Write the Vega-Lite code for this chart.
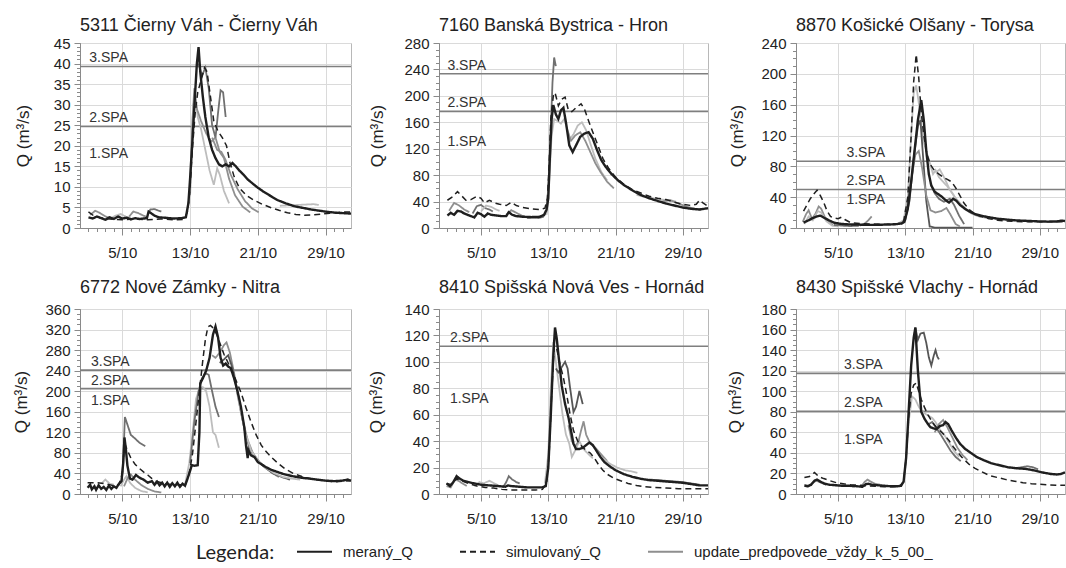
{
"$schema": "https://vega.github.io/schema/vega-lite/v6.json",
"padding": {"left": 12, "top": 16, "right": 0, "bottom": 0},
"background": "white",
"config": {
 "font": "Liberation Sans",
 "view": {"stroke": "#b8b8b8", "strokeWidth": 1},
 "axis": {"labelFontSize": 15, "labelColor": "#222", "labelOverlap": false, "titleFontSize": 17, "titleFontWeight": "normal", "titleColor": "#222", "domainColor": "#8a8a8a", "tickColor": "#8a8a8a", "gridColor": "#dadada", "gridWidth": 1},
 "axisX": {"labelPadding": 10, "tickSize": 7},
 "axisY": {"labelPadding": 4, "tickSize": 6},
 "title": {"fontSize": 18, "fontWeight": "normal", "anchor": "start", "frame": "group", "color": "#222", "baseline": "alphabetic"},
 "legend": {"direction": "horizontal", "symbolType": "stroke", "symbolSize": 1225, "symbolStrokeWidth": 2, "labelFontSize": 15, "labelColor": "#222", "labelOffset": 10, "labelLimit": 0, "columnPadding": 42, "titleFont": "Lato", "titleFontSize": 20, "titleFontWeight": "normal", "titleColor": "#222", "titleOrient": "left", "titlePadding": 21, "titleAnchor": "middle", "titleBaseline": "line-top", "titleLineHeight": 14, "titleLimit": 0}
},
"datasets": {
"spa": [
{"p":1,"k":"3.SPA","v":39.3},{"p":1,"k":"2.SPA","v":24.7},{"p":1,"k":"1.SPA","v":16},
{"p":2,"k":"3.SPA","v":233.5},{"p":2,"k":"2.SPA","v":176.5},{"p":2,"k":"1.SPA","v":118},
{"p":3,"k":"3.SPA","v":86.6},{"p":3,"k":"2.SPA","v":50},{"p":3,"k":"1.SPA","v":25.7},
{"p":4,"k":"3.SPA","v":241},{"p":4,"k":"2.SPA","v":205},{"p":4,"k":"1.SPA","v":166},
{"p":5,"k":"2.SPA","v":111.8},{"p":5,"k":"1.SPA","v":66},
{"p":6,"k":"3.SPA","v":117.4},{"p":6,"k":"2.SPA","v":80.4},{"p":6,"k":"1.SPA","v":44.3}
],
"q": [
{"p":1,"s":"m","x":1,"y":2.6},{"p":1,"s":"m","x":1.5,"y":2.3},{"p":1,"s":"m","x":2,"y":2.8},{"p":1,"s":"m","x":2.5,"y":2.4},{"p":1,"s":"m","x":3,"y":2},{"p":1,"s":"m","x":3.5,"y":2.6},{"p":1,"s":"m","x":4,"y":2.2},{"p":1,"s":"m","x":4.5,"y":2.8},{"p":1,"s":"m","x":5,"y":2.3},{"p":1,"s":"m","x":5.5,"y":2.5},{"p":1,"s":"m","x":6,"y":2.1},{"p":1,"s":"m","x":6.5,"y":2.4},{"p":1,"s":"m","x":7,"y":2.2},{"p":1,"s":"m","x":7.5,"y":2.3},{"p":1,"s":"m","x":7.9,"y":2.4},{"p":1,"s":"m","x":8.1,"y":4},{"p":1,"s":"m","x":8.4,"y":3.6},{"p":1,"s":"m","x":8.8,"y":3},{"p":1,"s":"m","x":9.3,"y":2.6},{"p":1,"s":"m","x":10,"y":2.5},{"p":1,"s":"m","x":11,"y":2.3},{"p":1,"s":"m","x":12,"y":2.4},{"p":1,"s":"m","x":12.5,"y":2.6},{"p":1,"s":"m","x":12.8,"y":6},{"p":1,"s":"m","x":13,"y":12},{"p":1,"s":"m","x":13.3,"y":22},{"p":1,"s":"m","x":13.6,"y":33},{"p":1,"s":"m","x":13.8,"y":40},{"p":1,"s":"m","x":14,"y":44},{"p":1,"s":"m","x":14.2,"y":38},{"p":1,"s":"m","x":14.5,"y":32},{"p":1,"s":"m","x":14.8,"y":27},{"p":1,"s":"m","x":15.2,"y":22},{"p":1,"s":"m","x":15.6,"y":19},{"p":1,"s":"m","x":16,"y":17},{"p":1,"s":"m","x":16.4,"y":15.5},{"p":1,"s":"m","x":16.8,"y":15},{"p":1,"s":"m","x":17.2,"y":15.5},{"p":1,"s":"m","x":17.6,"y":15},{"p":1,"s":"m","x":18,"y":15.8},{"p":1,"s":"m","x":18.4,"y":15},{"p":1,"s":"m","x":18.8,"y":14},{"p":1,"s":"m","x":19.3,"y":13},{"p":1,"s":"m","x":19.8,"y":11.8},{"p":1,"s":"m","x":20.4,"y":10.8},{"p":1,"s":"m","x":21,"y":9.8},{"p":1,"s":"m","x":21.7,"y":8.8},{"p":1,"s":"m","x":22.5,"y":7.8},{"p":1,"s":"m","x":23.3,"y":6.8},{"p":1,"s":"m","x":24.3,"y":6},{"p":1,"s":"m","x":25.3,"y":5.3},{"p":1,"s":"m","x":26.3,"y":4.9},{"p":1,"s":"m","x":27.3,"y":4.5},{"p":1,"s":"m","x":28.3,"y":4.2},{"p":1,"s":"m","x":29.3,"y":3.9},{"p":1,"s":"m","x":30.3,"y":3.7},{"p":1,"s":"m","x":31.2,"y":3.6},{"p":1,"s":"m","x":32,"y":3.5},
{"p":1,"s":"s","x":1,"y":3.9},{"p":1,"s":"s","x":1.6,"y":3},{"p":1,"s":"s","x":2.4,"y":2.5},{"p":1,"s":"s","x":3.5,"y":2.2},{"p":1,"s":"s","x":5,"y":2},{"p":1,"s":"s","x":6.5,"y":2.2},{"p":1,"s":"s","x":8,"y":2},{"p":1,"s":"s","x":9.5,"y":2.2},{"p":1,"s":"s","x":11,"y":2},{"p":1,"s":"s","x":12.3,"y":2.1},{"p":1,"s":"s","x":12.7,"y":4},{"p":1,"s":"s","x":13,"y":10},{"p":1,"s":"s","x":13.3,"y":20},{"p":1,"s":"s","x":13.6,"y":28},{"p":1,"s":"s","x":13.9,"y":33},{"p":1,"s":"s","x":14.3,"y":36},{"p":1,"s":"s","x":14.7,"y":39},{"p":1,"s":"s","x":15,"y":38},{"p":1,"s":"s","x":15.4,"y":32},{"p":1,"s":"s","x":15.8,"y":26},{"p":1,"s":"s","x":16.3,"y":23.5},{"p":1,"s":"s","x":16.8,"y":22},{"p":1,"s":"s","x":17.3,"y":20},{"p":1,"s":"s","x":17.7,"y":16},{"p":1,"s":"s","x":18.2,"y":12.5},{"p":1,"s":"s","x":18.8,"y":9.8},{"p":1,"s":"s","x":19.6,"y":8},{"p":1,"s":"s","x":20.5,"y":6.8},{"p":1,"s":"s","x":21.5,"y":5.8},{"p":1,"s":"s","x":22.5,"y":5},{"p":1,"s":"s","x":23.5,"y":4.3},{"p":1,"s":"s","x":24.5,"y":3.7},{"p":1,"s":"s","x":25.5,"y":3.3},{"p":1,"s":"s","x":26.5,"y":3.1},{"p":1,"s":"s","x":27.5,"y":3.2},{"p":1,"s":"s","x":28.5,"y":3.4},{"p":1,"s":"s","x":29.5,"y":3.6},{"p":1,"s":"s","x":30.5,"y":3.8},{"p":1,"s":"s","x":31.5,"y":3.9},{"p":1,"s":"s","x":32,"y":3.9},
{"p":1,"s":"u1","r":"a","x":1.2,"y":3.2},{"p":1,"s":"u1","r":"a","x":1.8,"y":4.2},{"p":1,"s":"u1","r":"a","x":2.4,"y":3.6},{"p":1,"s":"u1","r":"a","x":3,"y":2.8},{"p":1,"s":"u1","r":"a","x":3.6,"y":2.4},
{"p":1,"s":"u2","r":"b","x":3.6,"y":2.3},{"p":1,"s":"u2","r":"b","x":4.2,"y":3},{"p":1,"s":"u2","r":"b","x":4.8,"y":3.4},{"p":1,"s":"u2","r":"b","x":5.4,"y":2.8},{"p":1,"s":"u2","r":"b","x":6,"y":2.5},
{"p":1,"s":"u1","r":"c","x":5.8,"y":2.8},{"p":1,"s":"u1","r":"c","x":6.3,"y":4},{"p":1,"s":"u1","r":"c","x":6.9,"y":3.6},{"p":1,"s":"u1","r":"c","x":7.5,"y":3},{"p":1,"s":"u1","r":"c","x":8,"y":2.6},
{"p":1,"s":"u3","r":"d","x":8,"y":3.2},{"p":1,"s":"u3","r":"d","x":8.3,"y":4.5},{"p":1,"s":"u3","r":"d","x":8.8,"y":4.6},{"p":1,"s":"u3","r":"d","x":9.3,"y":4.2},{"p":1,"s":"u3","r":"d","x":9.6,"y":4},
{"p":1,"s":"u2","r":"e","x":12.9,"y":6},{"p":1,"s":"u2","r":"e","x":13.2,"y":22},{"p":1,"s":"u2","r":"e","x":13.4,"y":30},{"p":1,"s":"u2","r":"e","x":13.6,"y":32},{"p":1,"s":"u2","r":"e","x":13.9,"y":27},{"p":1,"s":"u2","r":"e","x":14.3,"y":24},{"p":1,"s":"u2","r":"e","x":14.8,"y":19},{"p":1,"s":"u2","r":"e","x":15.3,"y":14},{"p":1,"s":"u2","r":"e","x":15.8,"y":10.5},{"p":1,"s":"u2","r":"e","x":16.2,"y":14.5},{"p":1,"s":"u2","r":"e","x":16.5,"y":13},{"p":1,"s":"u2","r":"e","x":17,"y":9},{"p":1,"s":"u2","r":"e","x":17.6,"y":6},
{"p":1,"s":"u1","r":"f","x":13,"y":8},{"p":1,"s":"u1","r":"f","x":13.3,"y":27},{"p":1,"s":"u1","r":"f","x":13.5,"y":34},{"p":1,"s":"u1","r":"f","x":13.8,"y":29},{"p":1,"s":"u1","r":"f","x":14.3,"y":26},{"p":1,"s":"u1","r":"f","x":14.9,"y":23},{"p":1,"s":"u1","r":"f","x":15.5,"y":21},{"p":1,"s":"u1","r":"f","x":16,"y":22},{"p":1,"s":"u1","r":"f","x":16.5,"y":18.5},{"p":1,"s":"u1","r":"f","x":17,"y":17},{"p":1,"s":"u1","r":"f","x":17.6,"y":12},{"p":1,"s":"u1","r":"f","x":18.3,"y":8},{"p":1,"s":"u1","r":"f","x":19.2,"y":5.2},{"p":1,"s":"u1","r":"f","x":20.1,"y":3.8},
{"p":1,"s":"u3","r":"g","x":14,"y":40},{"p":1,"s":"u3","r":"g","x":14.4,"y":37},{"p":1,"s":"u3","r":"g","x":14.8,"y":39},{"p":1,"s":"u3","r":"g","x":15.2,"y":34},{"p":1,"s":"u3","r":"g","x":15.6,"y":25},{"p":1,"s":"u3","r":"g","x":16,"y":22},{"p":1,"s":"u3","r":"g","x":16.3,"y":28},{"p":1,"s":"u3","r":"g","x":16.6,"y":33.5},{"p":1,"s":"u3","r":"g","x":16.9,"y":33},{"p":1,"s":"u3","r":"g","x":17.2,"y":27},
{"p":1,"s":"u1","r":"h","x":15.6,"y":22},{"p":1,"s":"u1","r":"h","x":16.2,"y":19},{"p":1,"s":"u1","r":"h","x":16.7,"y":18.5},{"p":1,"s":"u1","r":"h","x":17.2,"y":16.5},{"p":1,"s":"u1","r":"h","x":17.8,"y":13},{"p":1,"s":"u1","r":"h","x":18.6,"y":9.5},{"p":1,"s":"u1","r":"h","x":19.5,"y":6.5},{"p":1,"s":"u1","r":"h","x":20.3,"y":4.8},{"p":1,"s":"u1","r":"h","x":21.1,"y":3.8},
{"p":1,"s":"u2","r":"i","x":23.6,"y":5.4},{"p":1,"s":"u2","r":"i","x":24.6,"y":5.5},{"p":1,"s":"u2","r":"i","x":25.6,"y":5.6},{"p":1,"s":"u2","r":"i","x":26.6,"y":5.7},{"p":1,"s":"u2","r":"i","x":27.6,"y":5.8},{"p":1,"s":"u2","r":"i","x":28.2,"y":5.6},

{"p":2,"s":"m","x":1,"y":19},{"p":2,"s":"m","x":1.4,"y":23},{"p":2,"s":"m","x":1.8,"y":20},{"p":2,"s":"m","x":2.2,"y":26},{"p":2,"s":"m","x":2.6,"y":25},{"p":2,"s":"m","x":3,"y":22},{"p":2,"s":"m","x":3.4,"y":20},{"p":2,"s":"m","x":3.8,"y":18},{"p":2,"s":"m","x":4.2,"y":16},{"p":2,"s":"m","x":4.6,"y":23},{"p":2,"s":"m","x":5,"y":21},{"p":2,"s":"m","x":5.4,"y":17},{"p":2,"s":"m","x":5.8,"y":22},{"p":2,"s":"m","x":6.2,"y":20},{"p":2,"s":"m","x":6.8,"y":19},{"p":2,"s":"m","x":7.4,"y":18},{"p":2,"s":"m","x":8,"y":18},{"p":2,"s":"m","x":8.3,"y":24},{"p":2,"s":"m","x":8.7,"y":20},{"p":2,"s":"m","x":9.2,"y":18},{"p":2,"s":"m","x":10,"y":17},{"p":2,"s":"m","x":11,"y":16.5},{"p":2,"s":"m","x":12,"y":17},{"p":2,"s":"m","x":12.5,"y":20},{"p":2,"s":"m","x":12.8,"y":28},{"p":2,"s":"m","x":13,"y":45},{"p":2,"s":"m","x":13.2,"y":110},{"p":2,"s":"m","x":13.4,"y":165},{"p":2,"s":"m","x":13.6,"y":186},{"p":2,"s":"m","x":13.9,"y":172},{"p":2,"s":"m","x":14.2,"y":165},{"p":2,"s":"m","x":14.5,"y":178},{"p":2,"s":"m","x":14.8,"y":182},{"p":2,"s":"m","x":15.1,"y":160},{"p":2,"s":"m","x":15.5,"y":125},{"p":2,"s":"m","x":15.9,"y":115},{"p":2,"s":"m","x":16.3,"y":125},{"p":2,"s":"m","x":16.8,"y":138},{"p":2,"s":"m","x":17.3,"y":143},{"p":2,"s":"m","x":17.8,"y":145},{"p":2,"s":"m","x":18.3,"y":135},{"p":2,"s":"m","x":18.8,"y":118},{"p":2,"s":"m","x":19.3,"y":103},{"p":2,"s":"m","x":19.8,"y":93},{"p":2,"s":"m","x":20.5,"y":82},{"p":2,"s":"m","x":21.3,"y":72},{"p":2,"s":"m","x":22,"y":65},{"p":2,"s":"m","x":23,"y":57},{"p":2,"s":"m","x":24,"y":50},{"p":2,"s":"m","x":25,"y":45},{"p":2,"s":"m","x":26,"y":41},{"p":2,"s":"m","x":27,"y":37},{"p":2,"s":"m","x":28,"y":34},{"p":2,"s":"m","x":29,"y":31},{"p":2,"s":"m","x":30,"y":29},{"p":2,"s":"m","x":31,"y":28},{"p":2,"s":"m","x":31.5,"y":29},{"p":2,"s":"m","x":32,"y":30},
{"p":2,"s":"s","x":1,"y":42},{"p":2,"s":"s","x":1.6,"y":47},{"p":2,"s":"s","x":2.2,"y":55},{"p":2,"s":"s","x":2.6,"y":50},{"p":2,"s":"s","x":3.2,"y":42},{"p":2,"s":"s","x":3.8,"y":43},{"p":2,"s":"s","x":4.5,"y":48},{"p":2,"s":"s","x":5,"y":45},{"p":2,"s":"s","x":5.4,"y":38},{"p":2,"s":"s","x":6,"y":42},{"p":2,"s":"s","x":6.6,"y":38},{"p":2,"s":"s","x":7.2,"y":36},{"p":2,"s":"s","x":8,"y":34},{"p":2,"s":"s","x":8.6,"y":39},{"p":2,"s":"s","x":9.2,"y":34},{"p":2,"s":"s","x":10,"y":31},{"p":2,"s":"s","x":11,"y":29},{"p":2,"s":"s","x":12,"y":28},{"p":2,"s":"s","x":12.6,"y":30},{"p":2,"s":"s","x":12.9,"y":45},{"p":2,"s":"s","x":13.1,"y":95},{"p":2,"s":"s","x":13.3,"y":165},{"p":2,"s":"s","x":13.6,"y":200},{"p":2,"s":"s","x":13.8,"y":205},{"p":2,"s":"s","x":14.2,"y":185},{"p":2,"s":"s","x":14.6,"y":195},{"p":2,"s":"s","x":15,"y":198},{"p":2,"s":"s","x":15.4,"y":178},{"p":2,"s":"s","x":15.8,"y":176},{"p":2,"s":"s","x":16.3,"y":182},{"p":2,"s":"s","x":16.9,"y":188},{"p":2,"s":"s","x":17.3,"y":180},{"p":2,"s":"s","x":17.8,"y":162},{"p":2,"s":"s","x":18.3,"y":145},{"p":2,"s":"s","x":18.9,"y":125},{"p":2,"s":"s","x":19.5,"y":105},{"p":2,"s":"s","x":20.2,"y":90},{"p":2,"s":"s","x":21,"y":77},{"p":2,"s":"s","x":22,"y":66},{"p":2,"s":"s","x":23,"y":58},{"p":2,"s":"s","x":24,"y":53},{"p":2,"s":"s","x":25,"y":48},{"p":2,"s":"s","x":26,"y":45},{"p":2,"s":"s","x":27,"y":43},{"p":2,"s":"s","x":28,"y":39},{"p":2,"s":"s","x":29,"y":36},{"p":2,"s":"s","x":30,"y":34},{"p":2,"s":"s","x":30.6,"y":36},{"p":2,"s":"s","x":31,"y":42},{"p":2,"s":"s","x":31.4,"y":38},{"p":2,"s":"s","x":32,"y":33},
{"p":2,"s":"u1","r":"a","x":1.2,"y":26},{"p":2,"s":"u1","r":"a","x":1.8,"y":38},{"p":2,"s":"u1","r":"a","x":2.4,"y":34},{"p":2,"s":"u1","r":"a","x":3,"y":28},{"p":2,"s":"u1","r":"a","x":3.6,"y":24},
{"p":2,"s":"u3","r":"b","x":4,"y":22},{"p":2,"s":"u3","r":"b","x":4.5,"y":33},{"p":2,"s":"u3","r":"b","x":5,"y":35},{"p":2,"s":"u3","r":"b","x":5.5,"y":30},{"p":2,"s":"u3","r":"b","x":6,"y":28},{"p":2,"s":"u3","r":"b","x":6.4,"y":25},
{"p":2,"s":"u2","r":"c","x":5,"y":25},{"p":2,"s":"u2","r":"c","x":5.6,"y":34},{"p":2,"s":"u2","r":"c","x":6.2,"y":32},{"p":2,"s":"u2","r":"c","x":6.8,"y":28},{"p":2,"s":"u2","r":"c","x":7.2,"y":26},
{"p":2,"s":"u1","r":"d","x":8,"y":20},{"p":2,"s":"u1","r":"d","x":8.6,"y":27},{"p":2,"s":"u1","r":"d","x":9.2,"y":23},{"p":2,"s":"u1","r":"d","x":9.8,"y":19},{"p":2,"s":"u1","r":"d","x":10.4,"y":16},
{"p":2,"s":"u3","r":"e","x":10.5,"y":15},{"p":2,"s":"u3","r":"e","x":11.2,"y":16},{"p":2,"s":"u3","r":"e","x":11.8,"y":15},{"p":2,"s":"u3","r":"e","x":12.4,"y":17},{"p":2,"s":"u3","r":"e","x":12.8,"y":25},{"p":2,"s":"u3","r":"e","x":13.1,"y":80},{"p":2,"s":"u3","r":"e","x":13.3,"y":150},{"p":2,"s":"u3","r":"e","x":13.5,"y":220},{"p":2,"s":"u3","r":"e","x":13.7,"y":258},{"p":2,"s":"u3","r":"e","x":13.9,"y":245},
{"p":2,"s":"u2","r":"f","x":12.8,"y":20},{"p":2,"s":"u2","r":"f","x":13.1,"y":70},{"p":2,"s":"u2","r":"f","x":13.4,"y":140},{"p":2,"s":"u2","r":"f","x":13.7,"y":165},{"p":2,"s":"u2","r":"f","x":14.1,"y":162},{"p":2,"s":"u2","r":"f","x":14.5,"y":158},{"p":2,"s":"u2","r":"f","x":14.9,"y":165},{"p":2,"s":"u2","r":"f","x":15.2,"y":152},{"p":2,"s":"u2","r":"f","x":15.6,"y":135},{"p":2,"s":"u2","r":"f","x":16,"y":142},{"p":2,"s":"u2","r":"f","x":16.5,"y":155},{"p":2,"s":"u2","r":"f","x":17,"y":160},{"p":2,"s":"u2","r":"f","x":17.5,"y":148},{"p":2,"s":"u2","r":"f","x":18,"y":128},{"p":2,"s":"u2","r":"f","x":18.6,"y":105},{"p":2,"s":"u2","r":"f","x":19.3,"y":85},{"p":2,"s":"u2","r":"f","x":20,"y":72},
{"p":2,"s":"u1","r":"g","x":15.2,"y":150},{"p":2,"s":"u1","r":"g","x":15.7,"y":132},{"p":2,"s":"u1","r":"g","x":16.2,"y":140},{"p":2,"s":"u1","r":"g","x":16.8,"y":145},{"p":2,"s":"u1","r":"g","x":17.4,"y":132},{"p":2,"s":"u1","r":"g","x":18,"y":115},{"p":2,"s":"u1","r":"g","x":18.6,"y":98},{"p":2,"s":"u1","r":"g","x":19.2,"y":85},{"p":2,"s":"u1","r":"g","x":20,"y":70},{"p":2,"s":"u1","r":"g","x":20.8,"y":60},
{"p":2,"s":"u2","r":"h","x":23.5,"y":50},{"p":2,"s":"u2","r":"h","x":24.5,"y":47},{"p":2,"s":"u2","r":"h","x":25.5,"y":45},{"p":2,"s":"u2","r":"h","x":26.5,"y":43},{"p":2,"s":"u2","r":"h","x":27.5,"y":42},{"p":2,"s":"u2","r":"h","x":28.2,"y":40},
{"p":2,"s":"u1","r":"i","x":26.5,"y":40},{"p":2,"s":"u1","r":"i","x":27.5,"y":42},{"p":2,"s":"u1","r":"i","x":28.5,"y":37},{"p":2,"s":"u1","r":"i","x":29.5,"y":32},{"p":2,"s":"u1","r":"i","x":30.5,"y":29},{"p":2,"s":"u1","r":"i","x":31.2,"y":28},

{"p":3,"s":"m","x":0.9,"y":7},{"p":3,"s":"m","x":1.5,"y":10},{"p":3,"s":"m","x":2,"y":13},{"p":3,"s":"m","x":2.5,"y":15},{"p":3,"s":"m","x":2.9,"y":16},{"p":3,"s":"m","x":3.4,"y":13},{"p":3,"s":"m","x":3.9,"y":10},{"p":3,"s":"m","x":4.5,"y":7},{"p":3,"s":"m","x":5.2,"y":5.5},{"p":3,"s":"m","x":6,"y":4.8},{"p":3,"s":"m","x":7,"y":4.5},{"p":3,"s":"m","x":8,"y":4.2},{"p":3,"s":"m","x":9,"y":4},{"p":3,"s":"m","x":10,"y":4.2},{"p":3,"s":"m","x":11,"y":4.5},{"p":3,"s":"m","x":12,"y":5},{"p":3,"s":"m","x":12.6,"y":6},{"p":3,"s":"m","x":12.9,"y":8},{"p":3,"s":"m","x":13.3,"y":25},{"p":3,"s":"m","x":13.7,"y":60},{"p":3,"s":"m","x":14.1,"y":100},{"p":3,"s":"m","x":14.5,"y":140},{"p":3,"s":"m","x":14.9,"y":166},{"p":3,"s":"m","x":15.2,"y":140},{"p":3,"s":"m","x":15.5,"y":100},{"p":3,"s":"m","x":15.8,"y":70},{"p":3,"s":"m","x":16.1,"y":55},{"p":3,"s":"m","x":16.5,"y":47},{"p":3,"s":"m","x":16.9,"y":44},{"p":3,"s":"m","x":17.3,"y":41},{"p":3,"s":"m","x":17.7,"y":37},{"p":3,"s":"m","x":18.2,"y":33},{"p":3,"s":"m","x":18.7,"y":38},{"p":3,"s":"m","x":19.1,"y":35},{"p":3,"s":"m","x":19.5,"y":30},{"p":3,"s":"m","x":20.1,"y":25},{"p":3,"s":"m","x":20.7,"y":21},{"p":3,"s":"m","x":21.3,"y":18},{"p":3,"s":"m","x":22,"y":16},{"p":3,"s":"m","x":22.9,"y":14},{"p":3,"s":"m","x":24,"y":12},{"p":3,"s":"m","x":25,"y":11},{"p":3,"s":"m","x":26,"y":10},{"p":3,"s":"m","x":27,"y":9.5},{"p":3,"s":"m","x":28,"y":9},{"p":3,"s":"m","x":29,"y":8.5},{"p":3,"s":"m","x":30,"y":8.3},{"p":3,"s":"m","x":31,"y":8.5},{"p":3,"s":"m","x":31.6,"y":9.5},{"p":3,"s":"m","x":32,"y":9},
{"p":3,"s":"s","x":0.9,"y":22},{"p":3,"s":"s","x":1.3,"y":30},{"p":3,"s":"s","x":1.7,"y":38},{"p":3,"s":"s","x":2.1,"y":44},{"p":3,"s":"s","x":2.5,"y":49},{"p":3,"s":"s","x":2.9,"y":42},{"p":3,"s":"s","x":3.3,"y":33},{"p":3,"s":"s","x":3.7,"y":22},{"p":3,"s":"s","x":4.1,"y":15},{"p":3,"s":"s","x":4.5,"y":13},{"p":3,"s":"s","x":5,"y":12},{"p":3,"s":"s","x":5.4,"y":14},{"p":3,"s":"s","x":5.8,"y":11},{"p":3,"s":"s","x":6.5,"y":7},{"p":3,"s":"s","x":8,"y":5.5},{"p":3,"s":"s","x":10,"y":5},{"p":3,"s":"s","x":12,"y":5},{"p":3,"s":"s","x":12.8,"y":8},{"p":3,"s":"s","x":13.3,"y":40},{"p":3,"s":"s","x":13.7,"y":120},{"p":3,"s":"s","x":14,"y":190},{"p":3,"s":"s","x":14.3,"y":225},{"p":3,"s":"s","x":14.6,"y":195},{"p":3,"s":"s","x":14.9,"y":150},{"p":3,"s":"s","x":15.2,"y":120},{"p":3,"s":"s","x":15.6,"y":95},{"p":3,"s":"s","x":16,"y":82},{"p":3,"s":"s","x":16.5,"y":74},{"p":3,"s":"s","x":17,"y":70},{"p":3,"s":"s","x":17.5,"y":66},{"p":3,"s":"s","x":18,"y":63},{"p":3,"s":"s","x":18.5,"y":60},{"p":3,"s":"s","x":19,"y":52},{"p":3,"s":"s","x":19.5,"y":42},{"p":3,"s":"s","x":20,"y":32},{"p":3,"s":"s","x":20.6,"y":24},{"p":3,"s":"s","x":21.3,"y":18},{"p":3,"s":"s","x":22,"y":15},{"p":3,"s":"s","x":23,"y":12},{"p":3,"s":"s","x":24,"y":10},{"p":3,"s":"s","x":26,"y":8.5},{"p":3,"s":"s","x":28,"y":8},{"p":3,"s":"s","x":30,"y":8},{"p":3,"s":"s","x":32,"y":8},
{"p":3,"s":"u1","r":"a","x":0.8,"y":8},{"p":3,"s":"u1","r":"a","x":1.2,"y":18},{"p":3,"s":"u1","r":"a","x":1.5,"y":23},{"p":3,"s":"u1","r":"a","x":1.9,"y":12},{"p":3,"s":"u1","r":"a","x":2.3,"y":18},{"p":3,"s":"u1","r":"a","x":2.7,"y":28},{"p":3,"s":"u1","r":"a","x":3,"y":25},{"p":3,"s":"u1","r":"a","x":3.4,"y":15},{"p":3,"s":"u1","r":"a","x":3.8,"y":8},{"p":3,"s":"u1","r":"a","x":4.4,"y":4},
{"p":3,"s":"u2","r":"b","x":1,"y":5},{"p":3,"s":"u2","r":"b","x":1.5,"y":15},{"p":3,"s":"u2","r":"b","x":2,"y":10},{"p":3,"s":"u2","r":"b","x":2.6,"y":22},{"p":3,"s":"u2","r":"b","x":3,"y":20},{"p":3,"s":"u2","r":"b","x":3.6,"y":9},{"p":3,"s":"u2","r":"b","x":4.3,"y":3},{"p":3,"s":"u2","r":"b","x":5,"y":2},
{"p":3,"s":"u3","r":"c","x":4.5,"y":4},{"p":3,"s":"u3","r":"c","x":5.5,"y":3},{"p":3,"s":"u3","r":"c","x":6.5,"y":2.5},{"p":3,"s":"u3","r":"c","x":7.5,"y":3},
{"p":3,"s":"u1","r":"d","x":7.6,"y":3},{"p":3,"s":"u1","r":"d","x":8.2,"y":6},{"p":3,"s":"u1","r":"d","x":8.6,"y":10},{"p":3,"s":"u1","r":"d","x":9,"y":15},
{"p":3,"s":"u2","r":"e","x":11.5,"y":4},{"p":3,"s":"u2","r":"e","x":12.2,"y":6},{"p":3,"s":"u2","r":"e","x":12.8,"y":10},{"p":3,"s":"u2","r":"e","x":13.3,"y":40},{"p":3,"s":"u2","r":"e","x":13.7,"y":120},{"p":3,"s":"u2","r":"e","x":14,"y":175},{"p":3,"s":"u2","r":"e","x":14.3,"y":185},{"p":3,"s":"u2","r":"e","x":14.7,"y":155},{"p":3,"s":"u2","r":"e","x":15.1,"y":115},{"p":3,"s":"u2","r":"e","x":15.5,"y":100},{"p":3,"s":"u2","r":"e","x":15.9,"y":85},{"p":3,"s":"u2","r":"e","x":16.3,"y":70},{"p":3,"s":"u2","r":"e","x":16.6,"y":75},{"p":3,"s":"u2","r":"e","x":17,"y":66},{"p":3,"s":"u2","r":"e","x":17.5,"y":60},{"p":3,"s":"u2","r":"e","x":18,"y":54},{"p":3,"s":"u2","r":"e","x":18.6,"y":45},{"p":3,"s":"u2","r":"e","x":19.2,"y":35},{"p":3,"s":"u2","r":"e","x":20,"y":25},{"p":3,"s":"u2","r":"e","x":21,"y":18},{"p":3,"s":"u2","r":"e","x":22,"y":14},
{"p":3,"s":"u4","r":"f","x":12.5,"y":5},{"p":3,"s":"u4","r":"f","x":13,"y":12},{"p":3,"s":"u4","r":"f","x":13.5,"y":35},{"p":3,"s":"u4","r":"f","x":14,"y":90},{"p":3,"s":"u4","r":"f","x":14.5,"y":132},{"p":3,"s":"u4","r":"f","x":14.8,"y":140},{"p":3,"s":"u4","r":"f","x":15.1,"y":95},{"p":3,"s":"u4","r":"f","x":15.5,"y":35},{"p":3,"s":"u4","r":"f","x":15.9,"y":2},{"p":3,"s":"u4","r":"f","x":16.5,"y":0.5},{"p":3,"s":"u4","r":"f","x":18,"y":0.5},{"p":3,"s":"u4","r":"f","x":19.5,"y":0.5},{"p":3,"s":"u4","r":"f","x":21,"y":0.5},
{"p":3,"s":"u1","r":"g","x":13,"y":10},{"p":3,"s":"u1","r":"g","x":13.6,"y":55},{"p":3,"s":"u1","r":"g","x":14.2,"y":95},{"p":3,"s":"u1","r":"g","x":14.6,"y":100},{"p":3,"s":"u1","r":"g","x":15,"y":78},{"p":3,"s":"u1","r":"g","x":15.5,"y":42},{"p":3,"s":"u1","r":"g","x":16,"y":23},{"p":3,"s":"u1","r":"g","x":16.6,"y":20},{"p":3,"s":"u1","r":"g","x":17.3,"y":22},{"p":3,"s":"u1","r":"g","x":17.9,"y":26},{"p":3,"s":"u1","r":"g","x":18.4,"y":17},{"p":3,"s":"u1","r":"g","x":19,"y":5},{"p":3,"s":"u1","r":"g","x":19.5,"y":2},
{"p":3,"s":"u3","r":"h","x":16,"y":58},{"p":3,"s":"u3","r":"h","x":16.5,"y":45},{"p":3,"s":"u3","r":"h","x":17,"y":38},{"p":3,"s":"u3","r":"h","x":17.6,"y":34},{"p":3,"s":"u3","r":"h","x":18.3,"y":38},{"p":3,"s":"u3","r":"h","x":18.8,"y":30},{"p":3,"s":"u3","r":"h","x":19.4,"y":16},{"p":3,"s":"u3","r":"h","x":20,"y":5},
{"p":3,"s":"u2","r":"i","x":16.6,"y":72},{"p":3,"s":"u2","r":"i","x":17.1,"y":76},{"p":3,"s":"u2","r":"i","x":17.6,"y":66},{"p":3,"s":"u2","r":"i","x":18.2,"y":52},{"p":3,"s":"u2","r":"i","x":18.9,"y":40},{"p":3,"s":"u2","r":"i","x":19.7,"y":30},{"p":3,"s":"u2","r":"i","x":20.5,"y":22},{"p":3,"s":"u2","r":"i","x":21.4,"y":17},{"p":3,"s":"u2","r":"i","x":22.3,"y":14},{"p":3,"s":"u2","r":"i","x":23,"y":12},

{"p":4,"s":"m","x":0.9,"y":12},{"p":4,"s":"m","x":1.2,"y":18},{"p":4,"s":"m","x":1.4,"y":9},{"p":4,"s":"m","x":1.7,"y":15},{"p":4,"s":"m","x":1.9,"y":8},{"p":4,"s":"m","x":2.2,"y":17},{"p":4,"s":"m","x":2.5,"y":10},{"p":4,"s":"m","x":2.8,"y":14},{"p":4,"s":"m","x":3.1,"y":8},{"p":4,"s":"m","x":3.4,"y":16},{"p":4,"s":"m","x":3.7,"y":10},{"p":4,"s":"m","x":4,"y":15},{"p":4,"s":"m","x":4.3,"y":12},{"p":4,"s":"m","x":4.6,"y":20},{"p":4,"s":"m","x":4.9,"y":25},{"p":4,"s":"m","x":5.1,"y":60},{"p":4,"s":"m","x":5.25,"y":110},{"p":4,"s":"m","x":5.4,"y":90},{"p":4,"s":"m","x":5.6,"y":55},{"p":4,"s":"m","x":5.9,"y":30},{"p":4,"s":"m","x":6.2,"y":28},{"p":4,"s":"m","x":6.6,"y":37},{"p":4,"s":"m","x":7,"y":32},{"p":4,"s":"m","x":7.5,"y":28},{"p":4,"s":"m","x":8,"y":22},{"p":4,"s":"m","x":8.5,"y":25},{"p":4,"s":"m","x":8.8,"y":18},{"p":4,"s":"m","x":9.1,"y":24},{"p":4,"s":"m","x":9.4,"y":17},{"p":4,"s":"m","x":9.7,"y":22},{"p":4,"s":"m","x":10,"y":15},{"p":4,"s":"m","x":10.3,"y":22},{"p":4,"s":"m","x":10.6,"y":14},{"p":4,"s":"m","x":10.9,"y":21},{"p":4,"s":"m","x":11.2,"y":15},{"p":4,"s":"m","x":11.5,"y":22},{"p":4,"s":"m","x":11.8,"y":14},{"p":4,"s":"m","x":12.1,"y":20},{"p":4,"s":"m","x":12.4,"y":16},{"p":4,"s":"m","x":12.7,"y":30},{"p":4,"s":"m","x":13,"y":45},{"p":4,"s":"m","x":13.2,"y":56},{"p":4,"s":"m","x":13.5,"y":55},{"p":4,"s":"m","x":13.9,"y":56},{"p":4,"s":"m","x":14.1,"y":120},{"p":4,"s":"m","x":14.2,"y":215},{"p":4,"s":"m","x":14.5,"y":225},{"p":4,"s":"m","x":14.9,"y":240},{"p":4,"s":"m","x":15.3,"y":265},{"p":4,"s":"m","x":15.7,"y":310},{"p":4,"s":"m","x":16,"y":326},{"p":4,"s":"m","x":16.3,"y":305},{"p":4,"s":"m","x":16.6,"y":265},{"p":4,"s":"m","x":16.9,"y":250},{"p":4,"s":"m","x":17.2,"y":254},{"p":4,"s":"m","x":17.5,"y":248},{"p":4,"s":"m","x":17.8,"y":245},{"p":4,"s":"m","x":18.2,"y":225},{"p":4,"s":"m","x":18.6,"y":200},{"p":4,"s":"m","x":19,"y":170},{"p":4,"s":"m","x":19.4,"y":130},{"p":4,"s":"m","x":19.6,"y":95},{"p":4,"s":"m","x":19.8,"y":70},{"p":4,"s":"m","x":19.9,"y":85},{"p":4,"s":"m","x":20.2,"y":75},{"p":4,"s":"m","x":20.6,"y":72},{"p":4,"s":"m","x":21,"y":62},{"p":4,"s":"m","x":21.5,"y":57},{"p":4,"s":"m","x":22,"y":52},{"p":4,"s":"m","x":22.6,"y":47},{"p":4,"s":"m","x":23.3,"y":43},{"p":4,"s":"m","x":24,"y":39},{"p":4,"s":"m","x":25,"y":35},{"p":4,"s":"m","x":26,"y":32},{"p":4,"s":"m","x":27,"y":30},{"p":4,"s":"m","x":28,"y":28},{"p":4,"s":"m","x":29,"y":26},{"p":4,"s":"m","x":30,"y":25},{"p":4,"s":"m","x":31,"y":26},{"p":4,"s":"m","x":31.6,"y":28},{"p":4,"s":"m","x":32,"y":26},
{"p":4,"s":"s","x":0.9,"y":22},{"p":4,"s":"s","x":2,"y":22},{"p":4,"s":"s","x":3,"y":20},{"p":4,"s":"s","x":4,"y":16},{"p":4,"s":"s","x":4.6,"y":18},{"p":4,"s":"s","x":5,"y":40},{"p":4,"s":"s","x":5.2,"y":85},{"p":4,"s":"s","x":5.35,"y":95},{"p":4,"s":"s","x":5.6,"y":85},{"p":4,"s":"s","x":6,"y":70},{"p":4,"s":"s","x":6.5,"y":58},{"p":4,"s":"s","x":7,"y":50},{"p":4,"s":"s","x":7.5,"y":43},{"p":4,"s":"s","x":8,"y":37},{"p":4,"s":"s","x":8.5,"y":30},{"p":4,"s":"s","x":9,"y":25},{"p":4,"s":"s","x":10,"y":20},{"p":4,"s":"s","x":11,"y":18},{"p":4,"s":"s","x":12,"y":18},{"p":4,"s":"s","x":12.5,"y":20},{"p":4,"s":"s","x":12.9,"y":40},{"p":4,"s":"s","x":13.3,"y":80},{"p":4,"s":"s","x":13.7,"y":140},{"p":4,"s":"s","x":14.1,"y":200},{"p":4,"s":"s","x":14.5,"y":260},{"p":4,"s":"s","x":14.8,"y":300},{"p":4,"s":"s","x":15.1,"y":325},{"p":4,"s":"s","x":15.4,"y":328},{"p":4,"s":"s","x":15.8,"y":322},{"p":4,"s":"s","x":16.2,"y":308},{"p":4,"s":"s","x":16.6,"y":290},{"p":4,"s":"s","x":17,"y":272},{"p":4,"s":"s","x":17.5,"y":255},{"p":4,"s":"s","x":18,"y":238},{"p":4,"s":"s","x":18.5,"y":218},{"p":4,"s":"s","x":19,"y":198},{"p":4,"s":"s","x":19.6,"y":168},{"p":4,"s":"s","x":20.2,"y":140},{"p":4,"s":"s","x":20.8,"y":115},{"p":4,"s":"s","x":21.4,"y":95},{"p":4,"s":"s","x":22,"y":82},{"p":4,"s":"s","x":22.7,"y":70},{"p":4,"s":"s","x":23.5,"y":58},{"p":4,"s":"s","x":24.3,"y":48},{"p":4,"s":"s","x":25.2,"y":40},{"p":4,"s":"s","x":26.2,"y":34},{"p":4,"s":"s","x":27.2,"y":30},{"p":4,"s":"s","x":28.2,"y":27},{"p":4,"s":"s","x":29.2,"y":25},{"p":4,"s":"s","x":30.2,"y":24},{"p":4,"s":"s","x":31.2,"y":25},{"p":4,"s":"s","x":32,"y":26},
{"p":4,"s":"u3","r":"a","x":4.9,"y":20},{"p":4,"s":"u3","r":"a","x":5.1,"y":60},{"p":4,"s":"u3","r":"a","x":5.3,"y":150},{"p":4,"s":"u3","r":"a","x":5.6,"y":135},{"p":4,"s":"u3","r":"a","x":6,"y":115},{"p":4,"s":"u3","r":"a","x":6.5,"y":108},{"p":4,"s":"u3","r":"a","x":7,"y":100},{"p":4,"s":"u3","r":"a","x":7.7,"y":93},
{"p":4,"s":"u2","r":"b","x":4.8,"y":15},{"p":4,"s":"u2","r":"b","x":5.2,"y":28},{"p":4,"s":"u2","r":"b","x":5.5,"y":35},{"p":4,"s":"u2","r":"b","x":5.9,"y":22},{"p":4,"s":"u2","r":"b","x":6.5,"y":12},{"p":4,"s":"u2","r":"b","x":7.2,"y":6},{"p":4,"s":"u2","r":"b","x":8,"y":3},
{"p":4,"s":"u1","r":"c","x":5.2,"y":15},{"p":4,"s":"u1","r":"c","x":5.6,"y":30},{"p":4,"s":"u1","r":"c","x":6,"y":38},{"p":4,"s":"u1","r":"c","x":6.5,"y":28},{"p":4,"s":"u1","r":"c","x":7.2,"y":18},{"p":4,"s":"u1","r":"c","x":8,"y":10},{"p":4,"s":"u1","r":"c","x":8.8,"y":5},{"p":4,"s":"u1","r":"c","x":9.6,"y":3},
{"p":4,"s":"u2","r":"d","x":2.5,"y":20},{"p":4,"s":"u2","r":"d","x":3,"y":28},{"p":4,"s":"u2","r":"d","x":3.5,"y":20},{"p":4,"s":"u2","r":"d","x":4,"y":18},
{"p":4,"s":"u2","r":"e","x":12.4,"y":18},{"p":4,"s":"u2","r":"e","x":12.9,"y":60},{"p":4,"s":"u2","r":"e","x":13.3,"y":120},{"p":4,"s":"u2","r":"e","x":13.7,"y":185},{"p":4,"s":"u2","r":"e","x":14.1,"y":205},{"p":4,"s":"u2","r":"e","x":14.5,"y":208},{"p":4,"s":"u2","r":"e","x":14.9,"y":200},{"p":4,"s":"u2","r":"e","x":15.3,"y":170},{"p":4,"s":"u2","r":"e","x":15.7,"y":120},{"p":4,"s":"u2","r":"e","x":16,"y":115},{"p":4,"s":"u2","r":"e","x":16.4,"y":90},
{"p":4,"s":"u3","r":"f","x":13,"y":60},{"p":4,"s":"u3","r":"f","x":13.5,"y":140},{"p":4,"s":"u3","r":"f","x":14,"y":200},{"p":4,"s":"u3","r":"f","x":14.4,"y":225},{"p":4,"s":"u3","r":"f","x":14.8,"y":235},{"p":4,"s":"u3","r":"f","x":15.2,"y":232},{"p":4,"s":"u3","r":"f","x":15.6,"y":200},{"p":4,"s":"u3","r":"f","x":16,"y":170},{"p":4,"s":"u3","r":"f","x":16.4,"y":150},
{"p":4,"s":"u1","r":"g","x":15.6,"y":270},{"p":4,"s":"u1","r":"g","x":16,"y":265},{"p":4,"s":"u1","r":"g","x":16.5,"y":275},{"p":4,"s":"u1","r":"g","x":17,"y":290},{"p":4,"s":"u1","r":"g","x":17.3,"y":295},{"p":4,"s":"u1","r":"g","x":17.7,"y":275},{"p":4,"s":"u1","r":"g","x":18.2,"y":235},{"p":4,"s":"u1","r":"g","x":18.7,"y":190},{"p":4,"s":"u1","r":"g","x":19.2,"y":145},{"p":4,"s":"u1","r":"g","x":19.8,"y":105},{"p":4,"s":"u1","r":"g","x":20.4,"y":80},{"p":4,"s":"u1","r":"g","x":21.2,"y":62},{"p":4,"s":"u1","r":"g","x":22,"y":50},{"p":4,"s":"u1","r":"g","x":22.8,"y":40},{"p":4,"s":"u1","r":"g","x":23.5,"y":33},
{"p":4,"s":"u4","r":"h","x":16.5,"y":255},{"p":4,"s":"u4","r":"h","x":17,"y":262},{"p":4,"s":"u4","r":"h","x":17.5,"y":270},{"p":4,"s":"u4","r":"h","x":18,"y":245},{"p":4,"s":"u4","r":"h","x":18.5,"y":205},{"p":4,"s":"u4","r":"h","x":19,"y":160},{"p":4,"s":"u4","r":"h","x":19.5,"y":120},{"p":4,"s":"u4","r":"h","x":20,"y":90},{"p":4,"s":"u4","r":"h","x":20.8,"y":68},{"p":4,"s":"u4","r":"h","x":21.8,"y":52},{"p":4,"s":"u4","r":"h","x":22.8,"y":40},{"p":4,"s":"u4","r":"h","x":24,"y":32},{"p":4,"s":"u4","r":"h","x":24.8,"y":28},
{"p":4,"s":"u2","r":"i","x":18.5,"y":200},{"p":4,"s":"u2","r":"i","x":19,"y":160},{"p":4,"s":"u2","r":"i","x":19.5,"y":120},{"p":4,"s":"u2","r":"i","x":20.2,"y":85},{"p":4,"s":"u2","r":"i","x":21,"y":65},{"p":4,"s":"u2","r":"i","x":22,"y":50},{"p":4,"s":"u2","r":"i","x":23,"y":40},{"p":4,"s":"u2","r":"i","x":24,"y":33},{"p":4,"s":"u2","r":"i","x":25,"y":30},{"p":4,"s":"u2","r":"i","x":26,"y":28},

{"p":5,"s":"m","x":0.9,"y":8},{"p":5,"s":"m","x":1.3,"y":6},{"p":5,"s":"m","x":1.7,"y":9},{"p":5,"s":"m","x":2.1,"y":13.5},{"p":5,"s":"m","x":2.5,"y":11.5},{"p":5,"s":"m","x":2.9,"y":10},{"p":5,"s":"m","x":3.5,"y":9},{"p":5,"s":"m","x":4.2,"y":8},{"p":5,"s":"m","x":5,"y":7},{"p":5,"s":"m","x":6,"y":6.5},{"p":5,"s":"m","x":7,"y":6},{"p":5,"s":"m","x":7.9,"y":5.5},{"p":5,"s":"m","x":8.2,"y":6.5},{"p":5,"s":"m","x":8.6,"y":6},{"p":5,"s":"m","x":9.5,"y":5.5},{"p":5,"s":"m","x":10.5,"y":5},{"p":5,"s":"m","x":11.5,"y":5},{"p":5,"s":"m","x":12.3,"y":5},{"p":5,"s":"m","x":12.7,"y":6},{"p":5,"s":"m","x":13,"y":20},{"p":5,"s":"m","x":13.3,"y":60},{"p":5,"s":"m","x":13.6,"y":105},{"p":5,"s":"m","x":13.8,"y":126},{"p":5,"s":"m","x":14,"y":118},{"p":5,"s":"m","x":14.3,"y":100},{"p":5,"s":"m","x":14.6,"y":82},{"p":5,"s":"m","x":15,"y":68},{"p":5,"s":"m","x":15.4,"y":58},{"p":5,"s":"m","x":15.7,"y":48},{"p":5,"s":"m","x":16,"y":38},{"p":5,"s":"m","x":16.3,"y":34},{"p":5,"s":"m","x":16.7,"y":34},{"p":5,"s":"m","x":17.1,"y":35},{"p":5,"s":"m","x":17.5,"y":37},{"p":5,"s":"m","x":17.9,"y":39},{"p":5,"s":"m","x":18.3,"y":37},{"p":5,"s":"m","x":18.7,"y":33},{"p":5,"s":"m","x":19.2,"y":28},{"p":5,"s":"m","x":19.7,"y":24},{"p":5,"s":"m","x":20.3,"y":21},{"p":5,"s":"m","x":21,"y":18},{"p":5,"s":"m","x":22,"y":15},{"p":5,"s":"m","x":23,"y":13},{"p":5,"s":"m","x":24,"y":11.5},{"p":5,"s":"m","x":25,"y":10.5},{"p":5,"s":"m","x":26,"y":10},{"p":5,"s":"m","x":27,"y":9.5},{"p":5,"s":"m","x":28,"y":9},{"p":5,"s":"m","x":29,"y":8.5},{"p":5,"s":"m","x":30,"y":7.5},{"p":5,"s":"m","x":31,"y":6.5},{"p":5,"s":"m","x":32,"y":6.5},
{"p":5,"s":"s","x":0.9,"y":8},{"p":5,"s":"s","x":1.5,"y":7},{"p":5,"s":"s","x":2.1,"y":12},{"p":5,"s":"s","x":2.7,"y":10},{"p":5,"s":"s","x":3.5,"y":8},{"p":5,"s":"s","x":4.5,"y":6},{"p":5,"s":"s","x":5.5,"y":5},{"p":5,"s":"s","x":6.5,"y":4.5},{"p":5,"s":"s","x":7.5,"y":3.5},{"p":5,"s":"s","x":8.5,"y":3},{"p":5,"s":"s","x":9.5,"y":3},{"p":5,"s":"s","x":10.5,"y":3},{"p":5,"s":"s","x":11.5,"y":3},{"p":5,"s":"s","x":12.3,"y":3.5},{"p":5,"s":"s","x":12.8,"y":8},{"p":5,"s":"s","x":13.1,"y":30},{"p":5,"s":"s","x":13.4,"y":75},{"p":5,"s":"s","x":13.7,"y":112},{"p":5,"s":"s","x":14,"y":110},{"p":5,"s":"s","x":14.4,"y":98},{"p":5,"s":"s","x":14.8,"y":88},{"p":5,"s":"s","x":15.2,"y":75},{"p":5,"s":"s","x":15.6,"y":60},{"p":5,"s":"s","x":16,"y":48},{"p":5,"s":"s","x":16.5,"y":40},{"p":5,"s":"s","x":17,"y":36},{"p":5,"s":"s","x":17.5,"y":33},{"p":5,"s":"s","x":18,"y":31},{"p":5,"s":"s","x":18.5,"y":27},{"p":5,"s":"s","x":19,"y":22},{"p":5,"s":"s","x":19.5,"y":18},{"p":5,"s":"s","x":20,"y":15},{"p":5,"s":"s","x":20.8,"y":12},{"p":5,"s":"s","x":21.6,"y":10},{"p":5,"s":"s","x":22.5,"y":8},{"p":5,"s":"s","x":23.5,"y":6.5},{"p":5,"s":"s","x":24.5,"y":5.5},{"p":5,"s":"s","x":25.5,"y":5},{"p":5,"s":"s","x":27,"y":4.5},{"p":5,"s":"s","x":28.5,"y":4},{"p":5,"s":"s","x":30,"y":4},{"p":5,"s":"s","x":31,"y":4},{"p":5,"s":"s","x":32,"y":4},
{"p":5,"s":"u1","r":"a","x":0.9,"y":6},{"p":5,"s":"u1","r":"a","x":1.4,"y":5},{"p":5,"s":"u1","r":"a","x":1.9,"y":11},{"p":5,"s":"u1","r":"a","x":2.3,"y":10},{"p":5,"s":"u1","r":"a","x":2.8,"y":8},{"p":5,"s":"u1","r":"a","x":3.3,"y":6},
{"p":5,"s":"u2","r":"b","x":4.2,"y":6},{"p":5,"s":"u2","r":"b","x":4.8,"y":9},{"p":5,"s":"u2","r":"b","x":5.3,"y":8},{"p":5,"s":"u2","r":"b","x":6,"y":10},{"p":5,"s":"u2","r":"b","x":6.6,"y":8},{"p":5,"s":"u2","r":"b","x":7.2,"y":6},
{"p":5,"s":"u3","r":"c","x":7.6,"y":5},{"p":5,"s":"u3","r":"c","x":8,"y":9},{"p":5,"s":"u3","r":"c","x":8.3,"y":13.5},{"p":5,"s":"u3","r":"c","x":8.7,"y":11},{"p":5,"s":"u3","r":"c","x":9.2,"y":9},{"p":5,"s":"u3","r":"c","x":9.6,"y":8},
{"p":5,"s":"u2","r":"d","x":12.6,"y":8},{"p":5,"s":"u2","r":"d","x":13,"y":30},{"p":5,"s":"u2","r":"d","x":13.3,"y":80},{"p":5,"s":"u2","r":"d","x":13.6,"y":115},{"p":5,"s":"u2","r":"d","x":13.9,"y":100},{"p":5,"s":"u2","r":"d","x":14.3,"y":80},{"p":5,"s":"u2","r":"d","x":14.7,"y":60},{"p":5,"s":"u2","r":"d","x":15.1,"y":45},{"p":5,"s":"u2","r":"d","x":15.5,"y":38},{"p":5,"s":"u2","r":"d","x":15.8,"y":28},{"p":5,"s":"u2","r":"d","x":16.2,"y":33},{"p":5,"s":"u2","r":"d","x":16.7,"y":40},{"p":5,"s":"u2","r":"d","x":17.2,"y":34},{"p":5,"s":"u2","r":"d","x":17.8,"y":30},{"p":5,"s":"u2","r":"d","x":18.3,"y":27},
{"p":5,"s":"u4","r":"e","x":13.9,"y":95},{"p":5,"s":"u4","r":"e","x":14.2,"y":92},{"p":5,"s":"u4","r":"e","x":14.6,"y":96},{"p":5,"s":"u4","r":"e","x":15,"y":100},{"p":5,"s":"u4","r":"e","x":15.3,"y":95},{"p":5,"s":"u4","r":"e","x":15.6,"y":80},{"p":5,"s":"u4","r":"e","x":16,"y":62},{"p":5,"s":"u4","r":"e","x":16.3,"y":66},{"p":5,"s":"u4","r":"e","x":16.7,"y":78},{"p":5,"s":"u4","r":"e","x":17.1,"y":68},
{"p":5,"s":"u1","r":"f","x":15.4,"y":52},{"p":5,"s":"u1","r":"f","x":15.8,"y":40},{"p":5,"s":"u1","r":"f","x":16.2,"y":36},{"p":5,"s":"u1","r":"f","x":16.6,"y":40},{"p":5,"s":"u1","r":"f","x":16.9,"y":48},{"p":5,"s":"u1","r":"f","x":17.2,"y":55},{"p":5,"s":"u1","r":"f","x":17.5,"y":45},{"p":5,"s":"u1","r":"f","x":18,"y":38},{"p":5,"s":"u1","r":"f","x":18.6,"y":35},{"p":5,"s":"u1","r":"f","x":19.3,"y":30},{"p":5,"s":"u1","r":"f","x":20,"y":25},
{"p":5,"s":"u2","r":"g","x":19.5,"y":27},{"p":5,"s":"u2","r":"g","x":20.3,"y":23},{"p":5,"s":"u2","r":"g","x":21.2,"y":20},{"p":5,"s":"u2","r":"g","x":22.1,"y":18},{"p":5,"s":"u2","r":"g","x":23,"y":17},{"p":5,"s":"u2","r":"g","x":23.6,"y":16},
{"p":5,"s":"u3","r":"h","x":25,"y":11},{"p":5,"s":"u3","r":"h","x":26,"y":10.5},{"p":5,"s":"u3","r":"h","x":27,"y":10},{"p":5,"s":"u3","r":"h","x":28,"y":9.5},{"p":5,"s":"u3","r":"h","x":29,"y":9},{"p":5,"s":"u3","r":"h","x":30,"y":8},{"p":5,"s":"u3","r":"h","x":31,"y":7},

{"p":6,"s":"m","x":1,"y":8},{"p":6,"s":"m","x":1.4,"y":7.5},{"p":6,"s":"m","x":1.8,"y":9},{"p":6,"s":"m","x":2.2,"y":13},{"p":6,"s":"m","x":2.5,"y":14},{"p":6,"s":"m","x":2.9,"y":12},{"p":6,"s":"m","x":3.4,"y":10},{"p":6,"s":"m","x":4,"y":9},{"p":6,"s":"m","x":4.8,"y":8.5},{"p":6,"s":"m","x":5.5,"y":8},{"p":6,"s":"m","x":6.5,"y":8},{"p":6,"s":"m","x":7.3,"y":7.5},{"p":6,"s":"m","x":7.9,"y":7},{"p":6,"s":"m","x":8.3,"y":9.5},{"p":6,"s":"m","x":8.6,"y":10},{"p":6,"s":"m","x":9,"y":9},{"p":6,"s":"m","x":9.7,"y":8.5},{"p":6,"s":"m","x":10.5,"y":8},{"p":6,"s":"m","x":11.3,"y":7.5},{"p":6,"s":"m","x":12,"y":7.5},{"p":6,"s":"m","x":12.5,"y":8},{"p":6,"s":"m","x":12.8,"y":12},{"p":6,"s":"m","x":13.1,"y":35},{"p":6,"s":"m","x":13.4,"y":80},{"p":6,"s":"m","x":13.7,"y":125},{"p":6,"s":"m","x":14,"y":152},{"p":6,"s":"m","x":14.2,"y":162},{"p":6,"s":"m","x":14.5,"y":120},{"p":6,"s":"m","x":14.9,"y":80},{"p":6,"s":"m","x":15.3,"y":73},{"p":6,"s":"m","x":15.7,"y":68},{"p":6,"s":"m","x":16,"y":65},{"p":6,"s":"m","x":16.3,"y":64},{"p":6,"s":"m","x":16.7,"y":63},{"p":6,"s":"m","x":17.1,"y":66},{"p":6,"s":"m","x":17.5,"y":67},{"p":6,"s":"m","x":17.8,"y":70},{"p":6,"s":"m","x":18.1,"y":68},{"p":6,"s":"m","x":18.5,"y":62},{"p":6,"s":"m","x":19,"y":55},{"p":6,"s":"m","x":19.5,"y":49},{"p":6,"s":"m","x":20.1,"y":44},{"p":6,"s":"m","x":20.8,"y":40},{"p":6,"s":"m","x":21.5,"y":36},{"p":6,"s":"m","x":22.3,"y":33},{"p":6,"s":"m","x":23.2,"y":30},{"p":6,"s":"m","x":24.2,"y":28},{"p":6,"s":"m","x":25.2,"y":26},{"p":6,"s":"m","x":26.3,"y":25},{"p":6,"s":"m","x":27.3,"y":24.5},{"p":6,"s":"m","x":28.3,"y":23},{"p":6,"s":"m","x":29.3,"y":21},{"p":6,"s":"m","x":30.3,"y":19.5},{"p":6,"s":"m","x":31,"y":19},{"p":6,"s":"m","x":31.5,"y":19.5},{"p":6,"s":"m","x":32,"y":21},
{"p":6,"s":"s","x":1,"y":16},{"p":6,"s":"s","x":1.6,"y":17},{"p":6,"s":"s","x":2.2,"y":21},{"p":6,"s":"s","x":2.7,"y":17},{"p":6,"s":"s","x":3.3,"y":15},{"p":6,"s":"s","x":4,"y":13},{"p":6,"s":"s","x":4.8,"y":11},{"p":6,"s":"s","x":5.6,"y":10},{"p":6,"s":"s","x":6.5,"y":9},{"p":6,"s":"s","x":7.5,"y":8.5},{"p":6,"s":"s","x":8.5,"y":8},{"p":6,"s":"s","x":9.5,"y":7.5},{"p":6,"s":"s","x":10.5,"y":7},{"p":6,"s":"s","x":11.5,"y":7},{"p":6,"s":"s","x":12.3,"y":7.5},{"p":6,"s":"s","x":12.8,"y":12},{"p":6,"s":"s","x":13.1,"y":35},{"p":6,"s":"s","x":13.4,"y":75},{"p":6,"s":"s","x":13.7,"y":98},{"p":6,"s":"s","x":14,"y":106},{"p":6,"s":"s","x":14.3,"y":108},{"p":6,"s":"s","x":14.6,"y":100},{"p":6,"s":"s","x":14.9,"y":92},{"p":6,"s":"s","x":15.3,"y":84},{"p":6,"s":"s","x":15.7,"y":77},{"p":6,"s":"s","x":16.2,"y":70},{"p":6,"s":"s","x":16.7,"y":65},{"p":6,"s":"s","x":17.2,"y":61},{"p":6,"s":"s","x":17.7,"y":57},{"p":6,"s":"s","x":18.2,"y":52},{"p":6,"s":"s","x":18.7,"y":46},{"p":6,"s":"s","x":19.2,"y":41},{"p":6,"s":"s","x":19.7,"y":36},{"p":6,"s":"s","x":20.2,"y":32},{"p":6,"s":"s","x":20.7,"y":28},{"p":6,"s":"s","x":21.3,"y":25},{"p":6,"s":"s","x":22,"y":22},{"p":6,"s":"s","x":23,"y":18},{"p":6,"s":"s","x":24,"y":16},{"p":6,"s":"s","x":25,"y":14},{"p":6,"s":"s","x":26,"y":12.5},{"p":6,"s":"s","x":27,"y":11},{"p":6,"s":"s","x":28,"y":10},{"p":6,"s":"s","x":29,"y":9.5},{"p":6,"s":"s","x":30,"y":9},{"p":6,"s":"s","x":31,"y":8.5},{"p":6,"s":"s","x":32,"y":8.5},
{"p":6,"s":"u1","r":"a","x":1,"y":9},{"p":6,"s":"u1","r":"a","x":1.5,"y":8},{"p":6,"s":"u1","r":"a","x":2,"y":11},{"p":6,"s":"u1","r":"a","x":2.4,"y":13},{"p":6,"s":"u1","r":"a","x":3,"y":11},{"p":6,"s":"u1","r":"a","x":3.6,"y":9},
{"p":6,"s":"u2","r":"b","x":4,"y":9},{"p":6,"s":"u2","r":"b","x":5,"y":8},{"p":6,"s":"u2","r":"b","x":6,"y":8},{"p":6,"s":"u2","r":"b","x":7,"y":7},
{"p":6,"s":"u1","r":"c","x":7.8,"y":8},{"p":6,"s":"u1","r":"c","x":8.2,"y":12},{"p":6,"s":"u1","r":"c","x":8.5,"y":14},{"p":6,"s":"u1","r":"c","x":8.9,"y":12},{"p":6,"s":"u1","r":"c","x":9.4,"y":10},{"p":6,"s":"u1","r":"c","x":10,"y":9},
{"p":6,"s":"u4","r":"d","x":14.2,"y":162},{"p":6,"s":"u4","r":"d","x":14.5,"y":150},{"p":6,"s":"u4","r":"d","x":14.8,"y":156},{"p":6,"s":"u4","r":"d","x":15.2,"y":157},{"p":6,"s":"u4","r":"d","x":15.5,"y":147},{"p":6,"s":"u4","r":"d","x":15.8,"y":133},{"p":6,"s":"u4","r":"d","x":16.1,"y":125},{"p":6,"s":"u4","r":"d","x":16.4,"y":135},{"p":6,"s":"u4","r":"d","x":16.6,"y":140},{"p":6,"s":"u4","r":"d","x":16.8,"y":134},{"p":6,"s":"u4","r":"d","x":17,"y":131},
{"p":6,"s":"u2","r":"e","x":13,"y":25},{"p":6,"s":"u2","r":"e","x":13.4,"y":70},{"p":6,"s":"u2","r":"e","x":13.8,"y":95},{"p":6,"s":"u2","r":"e","x":14.2,"y":92},{"p":6,"s":"u2","r":"e","x":14.6,"y":85},{"p":6,"s":"u2","r":"e","x":15,"y":80},{"p":6,"s":"u2","r":"e","x":15.4,"y":78},{"p":6,"s":"u2","r":"e","x":15.8,"y":76},{"p":6,"s":"u2","r":"e","x":16.2,"y":74},{"p":6,"s":"u2","r":"e","x":16.6,"y":70},{"p":6,"s":"u2","r":"e","x":17,"y":64},{"p":6,"s":"u2","r":"e","x":17.6,"y":58},{"p":6,"s":"u2","r":"e","x":18.2,"y":50},{"p":6,"s":"u2","r":"e","x":18.8,"y":42},{"p":6,"s":"u2","r":"e","x":19.4,"y":36},
{"p":6,"s":"u3","r":"f","x":15.8,"y":68},{"p":6,"s":"u3","r":"f","x":16.2,"y":70},{"p":6,"s":"u3","r":"f","x":16.7,"y":64},{"p":6,"s":"u3","r":"f","x":17.2,"y":58},{"p":6,"s":"u3","r":"f","x":17.8,"y":50},{"p":6,"s":"u3","r":"f","x":18.4,"y":42},{"p":6,"s":"u3","r":"f","x":19,"y":36},{"p":6,"s":"u3","r":"f","x":19.6,"y":32},
{"p":6,"s":"u1","r":"g","x":16.5,"y":60},{"p":6,"s":"u1","r":"g","x":17,"y":68},{"p":6,"s":"u1","r":"g","x":17.5,"y":72},{"p":6,"s":"u1","r":"g","x":18,"y":65},{"p":6,"s":"u1","r":"g","x":18.6,"y":55},{"p":6,"s":"u1","r":"g","x":19.2,"y":45},{"p":6,"s":"u1","r":"g","x":19.8,"y":38},{"p":6,"s":"u1","r":"g","x":20.4,"y":33},
{"p":6,"s":"u3","r":"h","x":26,"y":25},{"p":6,"s":"u3","r":"h","x":26.8,"y":26},{"p":6,"s":"u3","r":"h","x":27.5,"y":27},{"p":6,"s":"u3","r":"h","x":28.2,"y":26},{"p":6,"s":"u3","r":"h","x":28.8,"y":24}
]
},
"columns": 3,
"bounds": "flush",
"spacing": {"row": 81, "column": 88},
"concat": [
  {"width": 271, "height": 185, "title": {"text": "5311 Čierny Váh - Čierny Váh", "offset": 1},
   "layer": [
    {"layer": [
     {"data": {"name": "spa"}, "transform": [{"filter": "datum.p==1 && datum.k!='1.SPA'"}], "mark": {"type": "rule", "color": "#7f7f7f", "strokeWidth": 1.6}, "encoding": {"y": {"field": "v", "type": "quantitative", "scale": {"domain": [0, 45], "nice": false}, "title": "Q (m³/s)", "axis": {"values": [0,5,10,15,20,25,30,35,40,45], "grid": true, "titlePadding": 21}}}},
     {"data": {"name": "spa"}, "transform": [{"filter": "datum.p==1"}], "mark": {"type": "text", "align": "left", "baseline": "alphabetic", "dy": -4, "fontSize": 14, "color": "#333"}, "encoding": {"x": {"datum": 1.1, "type": "quantitative", "scale": {"domain": [0, 32], "nice": false, "zero": false}, "title": null, "axis": {"values": [5,13,21,29], "labelExpr": "datum.value + '/10'", "grid": true}}, "y": {"field": "v", "type": "quantitative", "title": "Q (m³/s)", "axis": {"values": [0,5,10,15,20,25,30,35,40,45], "grid": true, "titlePadding": 21}}, "text": {"field": "k"}}},
     {"data": {"name": "q"}, "transform": [{"filter": "datum.p==1 && datum.s!='m' && datum.s!='s'"}], "mark": {"type": "line", "strokeWidth": 1.8}, "encoding": {"x": {"field": "x", "type": "quantitative", "title": null, "axis": {"values": [5,13,21,29], "labelExpr": "datum.value + '/10'", "grid": true}}, "y": {"field": "y", "type": "quantitative", "title": "Q (m³/s)", "axis": {"values": [0,5,10,15,20,25,30,35,40,45], "grid": true, "titlePadding": 21}}, "detail": {"field": "r"},
       "color": {"field": "s", "type": "nominal", "scale": {"domain": ["m","s","u1","u2","u3","u4"], "range": ["#1f1f1f","#1f1f1f","#8f8f8f","#bdbdbd","#707070","#565656"]}, "legend": {"values": ["m","s","u1"], "title": "Legenda:", "labelExpr": "datum.value=='m' ? 'meraný_Q' : datum.value=='s' ? 'simulovaný_Q' : 'update_predpovede_vždy_k_5_00_'", "orient": "none", "legendX": 116, "legendY": 490}},
       "strokeDash": {"field": "s", "type": "nominal", "scale": {"domain": ["m","s","u1","u2","u3","u4"], "range": [[1,0],[6,4],[1,0],[1,0],[1,0],[1,0]]}, "legend": {"values": ["m","s","u1"], "title": "Legenda:", "labelExpr": "datum.value=='m' ? 'meraný_Q' : datum.value=='s' ? 'simulovaný_Q' : 'update_predpovede_vždy_k_5_00_'", "orient": "none", "legendX": 116, "legendY": 490}}}},
     {"data": {"name": "q"}, "transform": [{"filter": "datum.p==1 && datum.s=='s'"}], "mark": {"type": "line", "strokeWidth": 1.5}, "encoding": {"x": {"field": "x", "type": "quantitative", "title": null, "axis": {"values": [5,13,21,29], "labelExpr": "datum.value + '/10'", "grid": true}}, "y": {"field": "y", "type": "quantitative", "title": "Q (m³/s)", "axis": {"values": [0,5,10,15,20,25,30,35,40,45], "grid": true, "titlePadding": 21}}, "color": {"field": "s", "type": "nominal"}, "strokeDash": {"field": "s", "type": "nominal"}}},
     {"data": {"name": "q"}, "transform": [{"filter": "datum.p==1 && datum.s=='m'"}], "mark": {"type": "line", "strokeWidth": 2.4}, "encoding": {"x": {"field": "x", "type": "quantitative", "title": null, "axis": {"values": [5,13,21,29], "labelExpr": "datum.value + '/10'", "grid": true}}, "y": {"field": "y", "type": "quantitative", "title": "Q (m³/s)", "axis": {"values": [0,5,10,15,20,25,30,35,40,45], "grid": true, "titlePadding": 21}}, "color": {"field": "s", "type": "nominal"}, "strokeDash": {"field": "s", "type": "nominal"}}}
    ]},
    {"data": {"values": [{}]}, "mark": {"type": "point", "opacity": 0}, "encoding": {"x": {"datum": 0, "type": "quantitative", "axis": {"orient": "bottom", "values": [1,2,3,4,5,6,7,8,9,10,11,12,13,14,15,16,17,18,19,20,21,22,23,24,25,26,27,28,29,30,31], "labels": false, "grid": false, "domain": false, "tickSize": 3.5, "title": null}}, "y": {"datum": 0, "type": "quantitative", "axis": {"orient": "left", "values": [0,1,2,3,4,5,6,7,8,9,10,11,12,13,14,15,16,17,18,19,20,21,22,23,24,25,26,27,28,29,30,31,32,33,34,35,36,37,38,39,40,41,42,43,44,45], "labels": false, "grid": false, "domain": false, "tickSize": 3.5, "title": null}}}}
   ],
   "resolve": {"axis": {"x": "independent", "y": "independent"}}
  },
  {"width": 269, "height": 185, "title": {"text": "7160 Banská Bystrica - Hron", "offset": 1},
   "layer": [
    {"layer": [
     {"data": {"name": "spa"}, "transform": [{"filter": "datum.p==2 && datum.k!='1.SPA'"}], "mark": {"type": "rule", "color": "#7f7f7f", "strokeWidth": 1.6}, "encoding": {"y": {"field": "v", "type": "quantitative", "scale": {"domain": [0, 280], "nice": false}, "title": "Q (m³/s)", "axis": {"values": [0,40,80,120,160,200,240,280], "grid": true, "titlePadding": 17}}}},
     {"data": {"name": "spa"}, "transform": [{"filter": "datum.p==2"}], "mark": {"type": "text", "align": "left", "baseline": "alphabetic", "dy": -4, "fontSize": 14, "color": "#333"}, "encoding": {"x": {"datum": 1.0, "type": "quantitative", "scale": {"domain": [0, 32], "nice": false, "zero": false}, "title": null, "axis": {"values": [5,13,21,29], "labelExpr": "datum.value + '/10'", "grid": true}}, "y": {"field": "v", "type": "quantitative", "title": "Q (m³/s)", "axis": {"values": [0,40,80,120,160,200,240,280], "grid": true, "titlePadding": 17}}, "text": {"field": "k"}}},
     {"data": {"name": "q"}, "transform": [{"filter": "datum.p==2 && datum.s!='m' && datum.s!='s'"}], "mark": {"type": "line", "strokeWidth": 1.8}, "encoding": {"x": {"field": "x", "type": "quantitative", "title": null, "axis": {"values": [5,13,21,29], "labelExpr": "datum.value + '/10'", "grid": true}}, "y": {"field": "y", "type": "quantitative", "title": "Q (m³/s)", "axis": {"values": [0,40,80,120,160,200,240,280], "grid": true, "titlePadding": 17}}, "detail": {"field": "r"}, "color": {"field": "s", "type": "nominal"}, "strokeDash": {"field": "s", "type": "nominal"}}},
     {"data": {"name": "q"}, "transform": [{"filter": "datum.p==2 && datum.s=='s'"}], "mark": {"type": "line", "strokeWidth": 1.5}, "encoding": {"x": {"field": "x", "type": "quantitative", "title": null, "axis": {"values": [5,13,21,29], "labelExpr": "datum.value + '/10'", "grid": true}}, "y": {"field": "y", "type": "quantitative", "title": "Q (m³/s)", "axis": {"values": [0,40,80,120,160,200,240,280], "grid": true, "titlePadding": 17}}, "color": {"field": "s", "type": "nominal"}, "strokeDash": {"field": "s", "type": "nominal"}}},
     {"data": {"name": "q"}, "transform": [{"filter": "datum.p==2 && datum.s=='m'"}], "mark": {"type": "line", "strokeWidth": 2.4}, "encoding": {"x": {"field": "x", "type": "quantitative", "title": null, "axis": {"values": [5,13,21,29], "labelExpr": "datum.value + '/10'", "grid": true}}, "y": {"field": "y", "type": "quantitative", "title": "Q (m³/s)", "axis": {"values": [0,40,80,120,160,200,240,280], "grid": true, "titlePadding": 17}}, "color": {"field": "s", "type": "nominal"}, "strokeDash": {"field": "s", "type": "nominal"}}}
    ]},
    {"data": {"values": [{}]}, "mark": {"type": "point", "opacity": 0}, "encoding": {"x": {"datum": 0, "type": "quantitative", "axis": {"orient": "bottom", "values": [1,2,3,4,5,6,7,8,9,10,11,12,13,14,15,16,17,18,19,20,21,22,23,24,25,26,27,28,29,30,31], "labels": false, "grid": false, "domain": false, "tickSize": 3.5, "title": null}}, "y": {"datum": 0, "type": "quantitative", "axis": {"orient": "left", "values": [0,10,20,30,40,50,60,70,80,90,100,110,120,130,140,150,160,170,180,190,200,210,220,230,240,250,260,270,280], "labels": false, "grid": false, "domain": false, "tickSize": 3.5, "title": null}}}}
   ],
   "resolve": {"axis": {"x": "independent", "y": "independent"}}
  },
  {"width": 269, "height": 185, "title": {"text": "8870 Košické Olšany - Torysa", "offset": 1},
   "layer": [
    {"layer": [
     {"data": {"name": "spa"}, "transform": [{"filter": "datum.p==3 && datum.k!='1.SPA'"}], "mark": {"type": "rule", "color": "#7f7f7f", "strokeWidth": 1.6}, "encoding": {"y": {"field": "v", "type": "quantitative", "scale": {"domain": [0, 240], "nice": false}, "title": "Q (m³/s)", "axis": {"values": [0,40,80,120,160,200,240], "grid": true, "titlePadding": 14}}}},
     {"data": {"name": "spa"}, "transform": [{"filter": "datum.p==3"}], "mark": {"type": "text", "align": "left", "baseline": "alphabetic", "dy": -4, "fontSize": 14, "color": "#333"}, "encoding": {"x": {"datum": 6.0, "type": "quantitative", "scale": {"domain": [0, 32], "nice": false, "zero": false}, "title": null, "axis": {"values": [5,13,21,29], "labelExpr": "datum.value + '/10'", "grid": true}}, "y": {"field": "v", "type": "quantitative", "title": "Q (m³/s)", "axis": {"values": [0,40,80,120,160,200,240], "grid": true, "titlePadding": 14}}, "text": {"field": "k"}}},
     {"data": {"name": "q"}, "transform": [{"filter": "datum.p==3 && datum.s!='m' && datum.s!='s'"}], "mark": {"type": "line", "strokeWidth": 1.8}, "encoding": {"x": {"field": "x", "type": "quantitative", "title": null, "axis": {"values": [5,13,21,29], "labelExpr": "datum.value + '/10'", "grid": true}}, "y": {"field": "y", "type": "quantitative", "title": "Q (m³/s)", "axis": {"values": [0,40,80,120,160,200,240], "grid": true, "titlePadding": 14}}, "detail": {"field": "r"}, "color": {"field": "s", "type": "nominal"}, "strokeDash": {"field": "s", "type": "nominal"}}},
     {"data": {"name": "q"}, "transform": [{"filter": "datum.p==3 && datum.s=='s'"}], "mark": {"type": "line", "strokeWidth": 1.5}, "encoding": {"x": {"field": "x", "type": "quantitative", "title": null, "axis": {"values": [5,13,21,29], "labelExpr": "datum.value + '/10'", "grid": true}}, "y": {"field": "y", "type": "quantitative", "title": "Q (m³/s)", "axis": {"values": [0,40,80,120,160,200,240], "grid": true, "titlePadding": 14}}, "color": {"field": "s", "type": "nominal"}, "strokeDash": {"field": "s", "type": "nominal"}}},
     {"data": {"name": "q"}, "transform": [{"filter": "datum.p==3 && datum.s=='m'"}], "mark": {"type": "line", "strokeWidth": 2.4}, "encoding": {"x": {"field": "x", "type": "quantitative", "title": null, "axis": {"values": [5,13,21,29], "labelExpr": "datum.value + '/10'", "grid": true}}, "y": {"field": "y", "type": "quantitative", "title": "Q (m³/s)", "axis": {"values": [0,40,80,120,160,200,240], "grid": true, "titlePadding": 14}}, "color": {"field": "s", "type": "nominal"}, "strokeDash": {"field": "s", "type": "nominal"}}}
    ]},
    {"data": {"values": [{}]}, "mark": {"type": "point", "opacity": 0}, "encoding": {"x": {"datum": 0, "type": "quantitative", "axis": {"orient": "bottom", "values": [1,2,3,4,5,6,7,8,9,10,11,12,13,14,15,16,17,18,19,20,21,22,23,24,25,26,27,28,29,30,31], "labels": false, "grid": false, "domain": false, "tickSize": 3.5, "title": null}}, "y": {"datum": 0, "type": "quantitative", "axis": {"orient": "left", "values": [0,10,20,30,40,50,60,70,80,90,100,110,120,130,140,150,160,170,180,190,200,210,220,230,240], "labels": false, "grid": false, "domain": false, "tickSize": 3.5, "title": null}}}}
   ],
   "resolve": {"axis": {"x": "independent", "y": "independent"}}
  },
  {"width": 271, "height": 185, "title": {"text": "6772 Nové Zámky - Nitra", "offset": 5},
   "layer": [
    {"layer": [
     {"data": {"name": "spa"}, "transform": [{"filter": "datum.p==4 && datum.k!='1.SPA'"}], "mark": {"type": "rule", "color": "#7f7f7f", "strokeWidth": 1.6}, "encoding": {"y": {"field": "v", "type": "quantitative", "scale": {"domain": [0, 360], "nice": false}, "title": "Q (m³/s)", "axis": {"values": [0,40,80,120,160,200,240,280,320,360], "grid": true, "titlePadding": 14}}}},
     {"data": {"name": "spa"}, "transform": [{"filter": "datum.p==4"}], "mark": {"type": "text", "align": "left", "baseline": "alphabetic", "dy": -4, "fontSize": 14, "color": "#333"}, "encoding": {"x": {"datum": 1.3, "type": "quantitative", "scale": {"domain": [0, 32], "nice": false, "zero": false}, "title": null, "axis": {"values": [5,13,21,29], "labelExpr": "datum.value + '/10'", "grid": true}}, "y": {"field": "v", "type": "quantitative", "title": "Q (m³/s)", "axis": {"values": [0,40,80,120,160,200,240,280,320,360], "grid": true, "titlePadding": 14}}, "text": {"field": "k"}}},
     {"data": {"name": "q"}, "transform": [{"filter": "datum.p==4 && datum.s!='m' && datum.s!='s'"}], "mark": {"type": "line", "strokeWidth": 1.8}, "encoding": {"x": {"field": "x", "type": "quantitative", "title": null, "axis": {"values": [5,13,21,29], "labelExpr": "datum.value + '/10'", "grid": true}}, "y": {"field": "y", "type": "quantitative", "title": "Q (m³/s)", "axis": {"values": [0,40,80,120,160,200,240,280,320,360], "grid": true, "titlePadding": 14}}, "detail": {"field": "r"}, "color": {"field": "s", "type": "nominal"}, "strokeDash": {"field": "s", "type": "nominal"}}},
     {"data": {"name": "q"}, "transform": [{"filter": "datum.p==4 && datum.s=='s'"}], "mark": {"type": "line", "strokeWidth": 1.5}, "encoding": {"x": {"field": "x", "type": "quantitative", "title": null, "axis": {"values": [5,13,21,29], "labelExpr": "datum.value + '/10'", "grid": true}}, "y": {"field": "y", "type": "quantitative", "title": "Q (m³/s)", "axis": {"values": [0,40,80,120,160,200,240,280,320,360], "grid": true, "titlePadding": 14}}, "color": {"field": "s", "type": "nominal"}, "strokeDash": {"field": "s", "type": "nominal"}}},
     {"data": {"name": "q"}, "transform": [{"filter": "datum.p==4 && datum.s=='m'"}], "mark": {"type": "line", "strokeWidth": 2.4}, "encoding": {"x": {"field": "x", "type": "quantitative", "title": null, "axis": {"values": [5,13,21,29], "labelExpr": "datum.value + '/10'", "grid": true}}, "y": {"field": "y", "type": "quantitative", "title": "Q (m³/s)", "axis": {"values": [0,40,80,120,160,200,240,280,320,360], "grid": true, "titlePadding": 14}}, "color": {"field": "s", "type": "nominal"}, "strokeDash": {"field": "s", "type": "nominal"}}}
    ]},
    {"data": {"values": [{}]}, "mark": {"type": "point", "opacity": 0}, "encoding": {"x": {"datum": 0, "type": "quantitative", "axis": {"orient": "bottom", "values": [1,2,3,4,5,6,7,8,9,10,11,12,13,14,15,16,17,18,19,20,21,22,23,24,25,26,27,28,29,30,31], "labels": false, "grid": false, "domain": false, "tickSize": 3.5, "title": null}}, "y": {"datum": 0, "type": "quantitative", "axis": {"orient": "left", "values": [0,10,20,30,40,50,60,70,80,90,100,110,120,130,140,150,160,170,180,190,200,210,220,230,240,250,260,270,280,290,300,310,320,330,340,350,360], "labels": false, "grid": false, "domain": false, "tickSize": 3.5, "title": null}}}}
   ],
   "resolve": {"axis": {"x": "independent", "y": "independent"}}
  },
  {"width": 269, "height": 185, "title": {"text": "8410 Spišská Nová Ves - Hornád", "offset": 5},
   "layer": [
    {"layer": [
     {"data": {"name": "spa"}, "transform": [{"filter": "datum.p==5 && datum.k!='1.SPA'"}], "mark": {"type": "rule", "color": "#7f7f7f", "strokeWidth": 1.6}, "encoding": {"y": {"field": "v", "type": "quantitative", "scale": {"domain": [0, 140], "nice": false}, "title": "Q (m³/s)", "axis": {"values": [0,20,40,60,80,100,120,140], "grid": true, "titlePadding": 18}}}},
     {"data": {"name": "spa"}, "transform": [{"filter": "datum.p==5"}], "mark": {"type": "text", "align": "left", "baseline": "alphabetic", "dy": -4, "fontSize": 14, "color": "#333"}, "encoding": {"x": {"datum": 1.3, "type": "quantitative", "scale": {"domain": [0, 32], "nice": false, "zero": false}, "title": null, "axis": {"values": [5,13,21,29], "labelExpr": "datum.value + '/10'", "grid": true}}, "y": {"field": "v", "type": "quantitative", "title": "Q (m³/s)", "axis": {"values": [0,20,40,60,80,100,120,140], "grid": true, "titlePadding": 18}}, "text": {"field": "k"}}},
     {"data": {"name": "q"}, "transform": [{"filter": "datum.p==5 && datum.s!='m' && datum.s!='s'"}], "mark": {"type": "line", "strokeWidth": 1.8}, "encoding": {"x": {"field": "x", "type": "quantitative", "title": null, "axis": {"values": [5,13,21,29], "labelExpr": "datum.value + '/10'", "grid": true}}, "y": {"field": "y", "type": "quantitative", "title": "Q (m³/s)", "axis": {"values": [0,20,40,60,80,100,120,140], "grid": true, "titlePadding": 18}}, "detail": {"field": "r"}, "color": {"field": "s", "type": "nominal"}, "strokeDash": {"field": "s", "type": "nominal"}}},
     {"data": {"name": "q"}, "transform": [{"filter": "datum.p==5 && datum.s=='s'"}], "mark": {"type": "line", "strokeWidth": 1.5}, "encoding": {"x": {"field": "x", "type": "quantitative", "title": null, "axis": {"values": [5,13,21,29], "labelExpr": "datum.value + '/10'", "grid": true}}, "y": {"field": "y", "type": "quantitative", "title": "Q (m³/s)", "axis": {"values": [0,20,40,60,80,100,120,140], "grid": true, "titlePadding": 18}}, "color": {"field": "s", "type": "nominal"}, "strokeDash": {"field": "s", "type": "nominal"}}},
     {"data": {"name": "q"}, "transform": [{"filter": "datum.p==5 && datum.s=='m'"}], "mark": {"type": "line", "strokeWidth": 2.4}, "encoding": {"x": {"field": "x", "type": "quantitative", "title": null, "axis": {"values": [5,13,21,29], "labelExpr": "datum.value + '/10'", "grid": true}}, "y": {"field": "y", "type": "quantitative", "title": "Q (m³/s)", "axis": {"values": [0,20,40,60,80,100,120,140], "grid": true, "titlePadding": 18}}, "color": {"field": "s", "type": "nominal"}, "strokeDash": {"field": "s", "type": "nominal"}}}
    ]},
    {"data": {"values": [{}]}, "mark": {"type": "point", "opacity": 0}, "encoding": {"x": {"datum": 0, "type": "quantitative", "axis": {"orient": "bottom", "values": [1,2,3,4,5,6,7,8,9,10,11,12,13,14,15,16,17,18,19,20,21,22,23,24,25,26,27,28,29,30,31], "labels": false, "grid": false, "domain": false, "tickSize": 3.5, "title": null}}, "y": {"datum": 0, "type": "quantitative", "axis": {"orient": "left", "values": [0,5,10,15,20,25,30,35,40,45,50,55,60,65,70,75,80,85,90,95,100,105,110,115,120,125,130,135,140], "labels": false, "grid": false, "domain": false, "tickSize": 3.5, "title": null}}}}
   ],
   "resolve": {"axis": {"x": "independent", "y": "independent"}}
  },
  {"width": 269, "height": 185, "title": {"text": "8430 Spišské Vlachy - Hornád", "offset": 5},
   "layer": [
    {"layer": [
     {"data": {"name": "spa"}, "transform": [{"filter": "datum.p==6 && datum.k!='1.SPA'"}], "mark": {"type": "rule", "color": "#7f7f7f", "strokeWidth": 1.6}, "encoding": {"y": {"field": "v", "type": "quantitative", "scale": {"domain": [0, 180], "nice": false}, "title": "Q (m³/s)", "axis": {"values": [0,20,40,60,80,100,120,140,160,180], "grid": true, "titlePadding": 16}}}},
     {"data": {"name": "spa"}, "transform": [{"filter": "datum.p==6"}], "mark": {"type": "text", "align": "left", "baseline": "alphabetic", "dy": -4, "fontSize": 14, "color": "#333"}, "encoding": {"x": {"datum": 5.7, "type": "quantitative", "scale": {"domain": [0, 32], "nice": false, "zero": false}, "title": null, "axis": {"values": [5,13,21,29], "labelExpr": "datum.value + '/10'", "grid": true}}, "y": {"field": "v", "type": "quantitative", "title": "Q (m³/s)", "axis": {"values": [0,20,40,60,80,100,120,140,160,180], "grid": true, "titlePadding": 16}}, "text": {"field": "k"}}},
     {"data": {"name": "q"}, "transform": [{"filter": "datum.p==6 && datum.s!='m' && datum.s!='s'"}], "mark": {"type": "line", "strokeWidth": 1.8}, "encoding": {"x": {"field": "x", "type": "quantitative", "title": null, "axis": {"values": [5,13,21,29], "labelExpr": "datum.value + '/10'", "grid": true}}, "y": {"field": "y", "type": "quantitative", "title": "Q (m³/s)", "axis": {"values": [0,20,40,60,80,100,120,140,160,180], "grid": true, "titlePadding": 16}}, "detail": {"field": "r"}, "color": {"field": "s", "type": "nominal"}, "strokeDash": {"field": "s", "type": "nominal"}}},
     {"data": {"name": "q"}, "transform": [{"filter": "datum.p==6 && datum.s=='s'"}], "mark": {"type": "line", "strokeWidth": 1.5}, "encoding": {"x": {"field": "x", "type": "quantitative", "title": null, "axis": {"values": [5,13,21,29], "labelExpr": "datum.value + '/10'", "grid": true}}, "y": {"field": "y", "type": "quantitative", "title": "Q (m³/s)", "axis": {"values": [0,20,40,60,80,100,120,140,160,180], "grid": true, "titlePadding": 16}}, "color": {"field": "s", "type": "nominal"}, "strokeDash": {"field": "s", "type": "nominal"}}},
     {"data": {"name": "q"}, "transform": [{"filter": "datum.p==6 && datum.s=='m'"}], "mark": {"type": "line", "strokeWidth": 2.4}, "encoding": {"x": {"field": "x", "type": "quantitative", "title": null, "axis": {"values": [5,13,21,29], "labelExpr": "datum.value + '/10'", "grid": true}}, "y": {"field": "y", "type": "quantitative", "title": "Q (m³/s)", "axis": {"values": [0,20,40,60,80,100,120,140,160,180], "grid": true, "titlePadding": 16}}, "color": {"field": "s", "type": "nominal"}, "strokeDash": {"field": "s", "type": "nominal"}}}
    ]},
    {"data": {"values": [{}]}, "mark": {"type": "point", "opacity": 0}, "encoding": {"x": {"datum": 0, "type": "quantitative", "axis": {"orient": "bottom", "values": [1,2,3,4,5,6,7,8,9,10,11,12,13,14,15,16,17,18,19,20,21,22,23,24,25,26,27,28,29,30,31], "labels": false, "grid": false, "domain": false, "tickSize": 3.5, "title": null}}, "y": {"datum": 0, "type": "quantitative", "axis": {"orient": "left", "values": [0,5,10,15,20,25,30,35,40,45,50,55,60,65,70,75,80,85,90,95,100,105,110,115,120,125,130,135,140,145,150,155,160,165,170,175,180], "labels": false, "grid": false, "domain": false, "tickSize": 3.5, "title": null}}}}
   ],
   "resolve": {"axis": {"x": "independent", "y": "independent"}}
  }
]
}
